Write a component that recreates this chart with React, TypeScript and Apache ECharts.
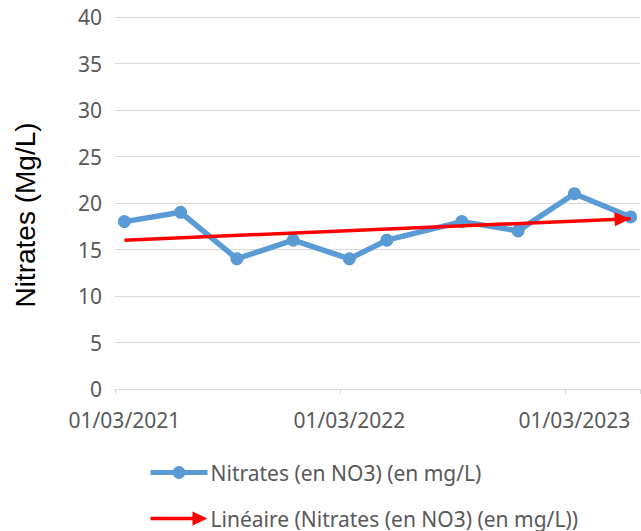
import React, { useEffect, useRef } from "react";
import * as echarts from "echarts";

// Month slots of the date axis (one category per month)
const months: string[] = [
  "01/03/2021", "01/04/2021", "01/05/2021", "01/06/2021", "01/07/2021", "01/08/2021",
  "01/09/2021", "01/10/2021", "01/11/2021", "01/12/2021", "01/01/2022", "01/02/2022",
  "01/03/2022", "01/04/2022", "01/05/2022", "01/06/2022", "01/07/2022", "01/08/2022",
  "01/09/2022", "01/10/2022", "01/11/2022", "01/12/2022", "01/01/2023", "01/02/2023",
  "01/03/2023", "01/04/2023", "01/05/2023", "01/06/2023",
];

// Measurements
const sampleDates: string[] = [
  "01/03/2021", "01/06/2021", "01/09/2021", "01/12/2021", "01/03/2022",
  "01/05/2022", "01/09/2022", "01/12/2022", "01/03/2023", "01/06/2023",
];
const nitrates: number[] = [18, 19, 14, 16, 14, 16, 18, 17, 21, 18.5];

const seriesName = "Nitrates (en NO3) (en mg/L)";
const trendName = "Linéaire (Nitrates (en NO3) (en mg/L))";
const yTitle = "Nitrates (Mg/L)";

function linearTrend() {
  const xs = sampleDates.map((d) => months.indexOf(d));
  const n = xs.length;
  const mx = xs.reduce((a, b) => a + b, 0) / n;
  const my = nitrates.reduce((a, b) => a + b, 0) / n;
  let sxy = 0;
  let sxx = 0;
  xs.forEach((x, i) => {
    sxy += (x - mx) * (nitrates[i] - my);
    sxx += (x - mx) * (x - mx);
  });
  const slope = sxy / sxx;
  const icpt = my - slope * mx;
  const x0 = xs[0];
  const x1 = xs[n - 1];
  return [
    [months[x0], icpt + slope * x0],
    [months[x1], icpt + slope * x1],
  ];
}

export default function App() {
  const ref = useRef<HTMLDivElement>(null);

  useEffect(() => {
    if (!ref.current) return;
    const chart = echarts.init(ref.current, undefined, { renderer: "svg" });
    const trend = linearTrend();
    const font = "'Noto Sans', sans-serif";
    const yearTick = (idx: number) => idx % 12 === 0;

    chart.setOption({
      animation: false,
      backgroundColor: "#ffffff",
      grid: { left: 115, right: 1, top: 17, bottom: 142, containLabel: false },
      xAxis: {
        type: "category",
        data: months,
        boundaryGap: true,
        axisLine: { show: true, lineStyle: { color: "#D9D9D9", width: 1 } },
        axisTick: { show: true, interval: yearTick, length: 5, lineStyle: { color: "#D9D9D9" } },
        axisLabel: {
          interval: yearTick,
          color: "#595959",
          fontFamily: font,
          fontSize: 21,
          margin: 20,
        },
        splitLine: { show: false },
      },
      yAxis: {
        type: "value",
        min: 0,
        max: 40,
        interval: 5,
        axisLine: { show: false },
        axisTick: { show: false },
        axisLabel: { color: "#595959", fontFamily: font, fontSize: 21, margin: 13 },
        splitLine: { lineStyle: { color: "#D9D9D9", width: 1 } },
      },
      legend: {
        orient: "vertical",
        left: 148,
        top: 462,
        padding: 0,
        itemGap: 25,
        itemWidth: 57,
        itemHeight: 16,
        textStyle: { color: "#595959", fontFamily: font, fontSize: 21, lineHeight: 21, padding: [0, 0, 0, -2] },
        data: [
          { name: seriesName, lineStyle: { width: 5 } },
          { name: trendName, icon: "path://M0,5.2 L42,5.2 L42,0 L57,7 L42,14 L42,8.8 L0,8.8 Z" },
        ],
      },
      graphic: [
        {
          type: "text",
          x: 25,
          y: 215,
          rotation: Math.PI / 2,
          style: {
            text: yTitle,
            fill: "#000000",
            font: "28px 'Liberation Sans', Arial, sans-serif",
            textAlign: "center",
            textVerticalAlign: "middle",
          },
        },
      ],
      series: [
        {
          name: seriesName,
          type: "line",
          data: sampleDates.map((d, i) => [d, nitrates[i]]),
          symbol: "circle",
          symbolSize: 13,
          showSymbol: true,
          showAllSymbol: true,
          itemStyle: { color: "#5B9BD5" },
          lineStyle: { color: "#5B9BD5", width: 5.5 },
          z: 2,
        },
        {
          name: trendName,
          type: "line",
          data: [],
          itemStyle: { color: "#FF0000" },
          lineStyle: { color: "#FF0000", width: 3.5 },
          z: 3,
          markLine: {
            silent: true,
            label: { show: false },
            lineStyle: { color: "#FF0000", width: 3.5, type: "solid" },
            data: [
              [
                { coord: trend[0], symbol: "none" },
                { coord: trend[1], symbol: "triangle", symbolSize: [14, 16], symbolOffset: [0, 8] },
              ],
            ],
          },
        },
      ],
    });

    return () => chart.dispose();
  }, []);

  return (
    <div
      ref={ref}
      style={{ position: "absolute", left: 0, top: 0, width: 641, height: 531 }}
    />
  );
}
